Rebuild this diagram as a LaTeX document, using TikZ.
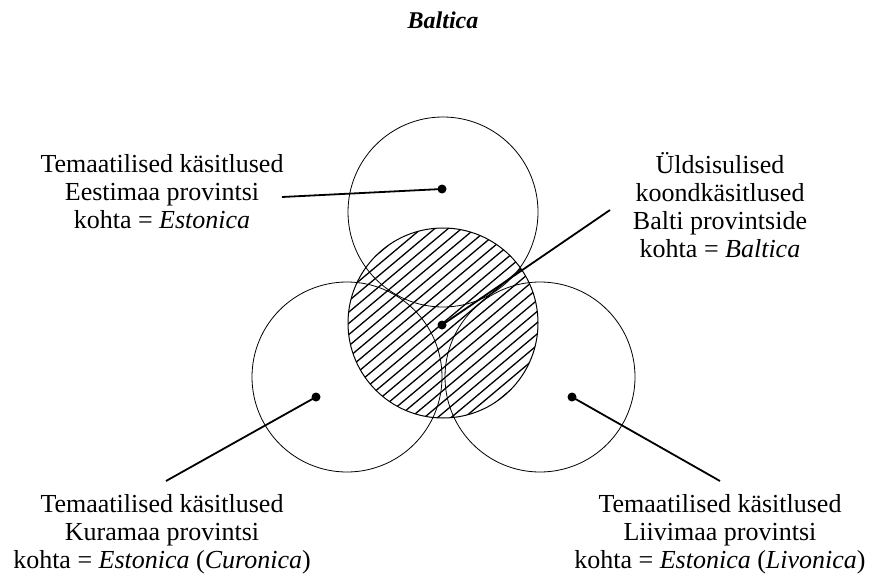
\documentclass[tikz,border=0pt]{standalone}
\usepackage{fontspec}
\setmainfont{Liberation Serif}
\usetikzlibrary{positioning,calc}

\begin{document}
\begin{tikzpicture}[
    x=1pt, y=-1pt,
    txt/.style={align=center, inner sep=0pt, font=\fontsize{26}{28}\selectfont},
    ring/.style={circle, draw, line width=0.8pt, minimum size=190pt, inner sep=0pt},
    dot/.style={circle, fill=black, inner sep=0pt, minimum size=9pt},
    leader/.style={line width=1.8pt}
]
\useasboundingbox (0,0) rectangle (880,578);
\node (title) at (443,20) {\fontsize{24}{28}\selectfont\bfseries\itshape Baltica};
% hatched middle circle
\begin{scope}
\clip (443,323) circle (95pt);
\foreach \k in {-18,...,18}
  \draw[line width=1.3pt] ($(443,323)+(\k*13.4-150,126)$) -- ++(300,-252);
\end{scope}
\node (mid) [ring, line width=1pt] at (443,323) {};
\node (est) [ring] at (443,212) {};
\node (kur) [ring] at (347,377) {};
\node (liv) [ring] at (540,377) {};
% dots
\node (estdot) [dot] at (442,189) {};
\node (middot) [dot] at (442,325) {};
\node (kurdot) [dot] at (316,397) {};
\node (livdot) [dot] at (572,397) {};
% labels
\node (esttxt) [txt] at (162,192) {Temaatilised käsitlused\\Eestimaa provintsi\\kohta = \textit{Estonica}};
\node (midtxt) [txt] at (720,205) {Üldsisulised\\koondkäsitlused\\Balti provintside\\kohta = \textit{Baltica}};
\node (kurtxt) [txt] at (162,534) {Temaatilised käsitlused\\Kuramaa provintsi\\kohta = \textit{Estonica} (\textit{Curonica})};
\node (livtxt) [txt] at (720,534) {Temaatilised käsitlused\\Liivimaa provintsi\\kohta = \textit{Estonica} (\textit{Livonica})};
% leader ends
\coordinate (estend) at (282,197);
\coordinate (midend) at (610,210);
\coordinate (kurend) at (166,481);
\coordinate (livend) at (720,481);
\draw [leader] (estend) -- (estdot.center);
\draw [leader] (midend) -- (middot.center);
\draw [leader] (kurend) -- (kurdot.center);
\draw [leader] (livend) -- (livdot.center);
\end{tikzpicture}
\end{document}
